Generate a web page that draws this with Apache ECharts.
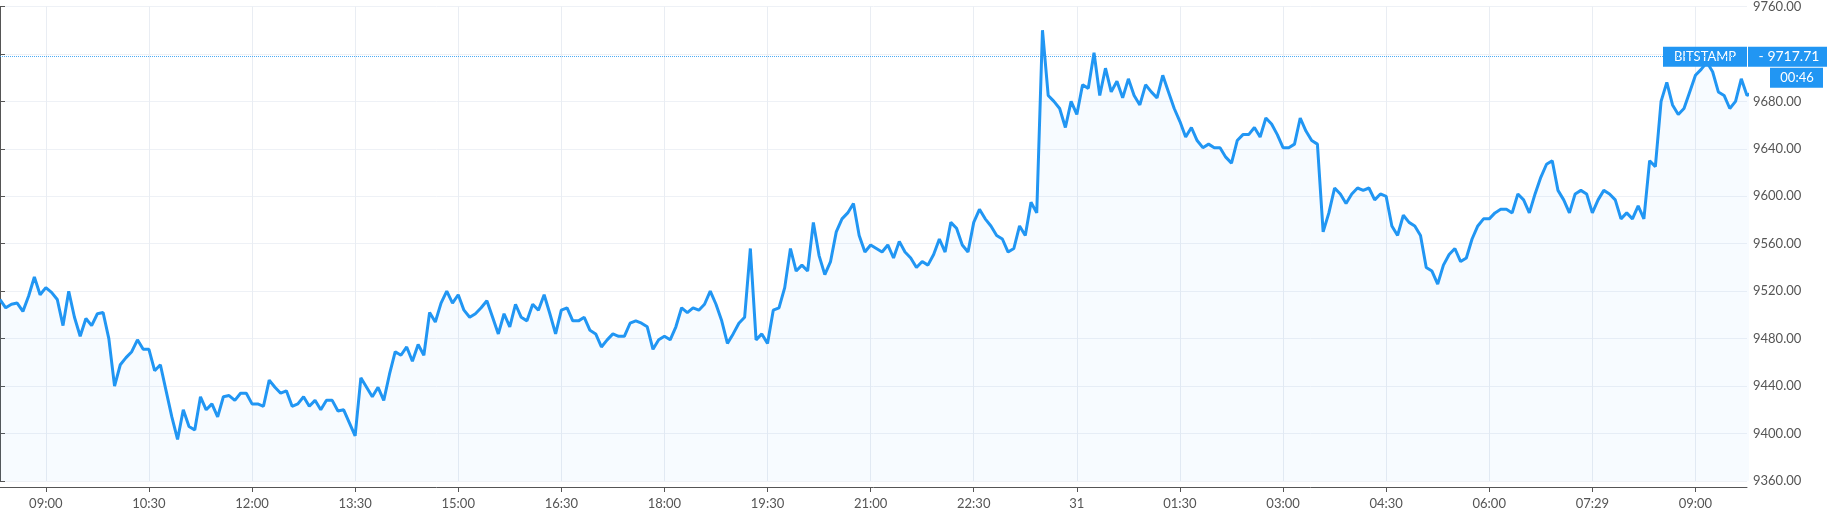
<!DOCTYPE html>
<html><head><meta charset="utf-8">
<script src="https://cdn.jsdelivr.net/npm/echarts@6/dist/echarts.min.js"></script>
<style>html,body{margin:0;padding:0;background:#fff}#c{width:1827px;height:520px}</style>
</head><body><div id="c"></div>
<script>
// price every ~5 minutes starting 08:20 (30th) to ~09:44 (31st)
const seg1 = [9513,9506,9509,9510,9503,9516,9532,9517,9523,9519,9513,9491,9520,9498,9482,9497,9491,9501,9502,9480,9440,9458,9464,9469,9479,9471,9471,9453,9458,9436,9414,9395,9420,9406,9403,9431,9420,9425,9414,9431,9432,9428,9434,9434,9425,9425,9423,9445,9439,9434,9436,9423,9425,9431,9423,9428,9420,9428,9428,9419,9420,9409,9398,9447,9439,9431,9439,9428,9450,9469,9466,9473,9461,9475,9466,9502,9494,9510,9520,9510,9517];
const seg2 = [9504,9498,9501,9506,9512,9498,9484,9501,9490,9509,9498,9495,9509,9504,9517,9501,9484,9504,9506,9495,9495,9498,9487,9484,9473,9479,9484,9482,9482,9493,9495,9493,9490,9471,9479,9482,9479,9490,9506,9502,9506,9504,9509,9520,9509,9495,9476,9484,9493,9498,9556,9479,9484,9476,9504,9506,9523,9556,9537,9542,9537,9578,9550,9534,9545,9570,9581,9586,9594,9567,9553,9559,9556,9553,9559,9548];
const seg3 = [9562,9553,9548,9540,9545,9542,9551,9564,9553,9578,9573,9559,9553,9578,9589,9581,9575,9567,9564,9553,9556,9575,9567,9595,9586,9740,9685,9680,9674,9658,9680,9669,9694,9691,9721,9685,9708,9688,9697,9683,9699,9685,9677,9694,9688,9683,9702,9688,9674,9663,9650,9658,9647,9641,9644,9641,9641,9633,9628,9647,9652,9652,9658,9650,9666,9661,9652,9641,9641,9644,9666,9655,9647,9644,9570,9586];
const seg4 = [9607,9602,9594,9602,9607,9605,9607,9597,9602,9600,9575,9567,9584,9578,9575,9567,9540,9537,9526,9542,9551,9556,9545,9548,9564,9575,9581,9581,9586,9589,9589,9586,9602,9597,9586,9602,9616,9627,9630,9605,9597,9586,9602,9605,9602,9586,9597,9605,9602,9597,9581,9586,9581,9592,9581,9630,9625,9680,9696,9677,9669,9674,9688,9702,9707,9713,9705,9688,9685,9674,9680,9699,9685,9688,9730,9717.71];
const prices = seg1.concat(seg2, seg3, seg4);
const stepMin = 5;
const tickMinutes = [40,130,220,310,400,490,580,670,760,850,940,1030,1120,1210,1300,1390,1480];
const tickLabels = ['09:00','10:30','12:00','13:30','15:00','16:30','18:00','19:30','21:00','22:30','31','01:30','03:00','04:30','06:00','07:29','09:00'];
const lastPrice = 9717.71;
const countdown = '00:46';

const data = prices.map((v,i)=>[i*stepMin, v]);
const labelMap = {}; tickMinutes.forEach((m,i)=>labelMap[m]=tickLabels[i]);
const chart = echarts.init(document.getElementById('c'));
const font = '"Lato","Open Sans",sans-serif';
chart.setOption({
  animation:false,
  grid:{left:0,right:80,top:-3,bottom:39,containLabel:false},
  xAxis:{type:'value',min:0,max:1525,offset:6,
    axisLine:{lineStyle:{color:'#555',width:1}},
    axisTick:{show:true,length:5,lineStyle:{color:'#555'},customValues:tickMinutes},
    axisLabel:{customValues:tickMinutes,formatter:v=>labelMap[v]||'',color:'#555',fontSize:13,fontFamily:font,margin:10},
    splitLine:{show:true,lineStyle:{color:'#e9edf3'}}},
  yAxis:{type:'value',position:'right',min:9360,max:9760,interval:40,
    axisLine:{show:true,lineStyle:{color:'#555'}},
    axisTick:{show:true,length:5,lineStyle:{color:'#555'}},
    axisLabel:{color:'#555',fontSize:13,fontFamily:font,margin:6,formatter:v=>v===9720?'':v.toFixed(2)},
    splitLine:{show:true,lineStyle:{color:'#eef1f6'}}},
  series:[{type:'line',data:data,symbol:'none',
    lineStyle:{color:'#2196f3',width:3},
    areaStyle:{color:'rgba(33,150,243,0.05)'},
    markLine:{silent:true,symbol:'none',label:{show:false},
      lineStyle:{color:'#2196f3',type:'dotted',width:1,opacity:0.8},
      data:[{yAxis:lastPrice}]}}]
});
const py = chart.convertToPixel({yAxisIndex:0},lastPrice);
const ax = 1747;
chart.setOption({graphic:[
  {type:'rect',shape:{x:ax-84,y:py-10,width:84,height:20},style:{fill:'#2196f3'}},
  {type:'text',style:{x:ax-42,y:py,text:'BITSTAMP',fill:'#fff',font:'13px '+font,align:'center',verticalAlign:'middle'}},
  {type:'rect',shape:{x:ax+1,y:py-10,width:79,height:20},style:{fill:'#2196f3'}},
  {type:'text',style:{x:ax+42,y:py,text:'- '+lastPrice.toFixed(2),fill:'#fff',font:'14px '+font,align:'center',verticalAlign:'middle'}},
  {type:'rect',shape:{x:ax+23,y:py+11,width:53,height:20},style:{fill:'#2196f3'}},
  {type:'text',style:{x:ax+50,y:py+21,text:countdown,fill:'#fff',font:'13px '+font,align:'center',verticalAlign:'middle'}}
]});
</script></body></html>
